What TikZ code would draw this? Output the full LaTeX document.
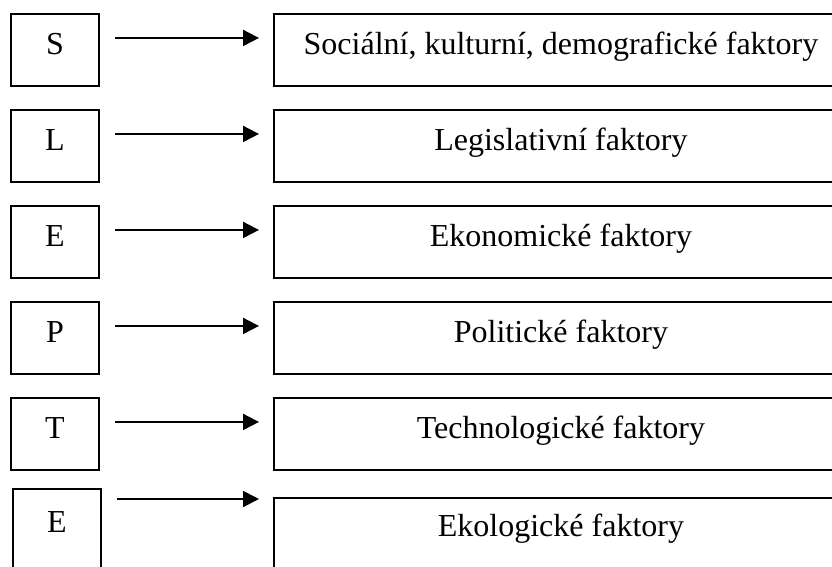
\documentclass[tikz,border=0pt]{standalone}
\usepackage{fontspec}
\setmainfont{Liberation Serif}
\usetikzlibrary{arrows.meta}
\begin{document}
\begin{tikzpicture}[x=1pt,y=-1pt,
  every node/.style={font=\fontsize{32}{36}\selectfont},
  letterbox/.style={draw,line width=1.9pt,minimum width=88pt,minimum height=72pt,inner sep=0pt,text height=18pt,text depth=9pt,anchor=north west},
  factorbox/.style={draw,line width=1.9pt,minimum width=574pt,minimum height=72pt,inner sep=0pt,text height=18pt,text depth=9pt,anchor=north west},
  arr/.style={line width=1.9pt,-{Triangle[length=16pt,width=16pt]},shorten <=15pt,shorten >=14pt}]
\useasboundingbox (0,0) rectangle (832,566);
\node[letterbox] (L1) at (10,13) {S};
\node[factorbox] (R1) at (273,13) {Sociální, kulturní, demografické faktory};
\node[letterbox] (L2) at (10,109) {L};
\node[factorbox] (R2) at (273,109) {Legislativní faktory};
\node[letterbox] (L3) at (10,205) {E};
\node[factorbox] (R3) at (273,205) {Ekonomické faktory};
\node[letterbox] (L4) at (10,301) {P};
\node[factorbox] (R4) at (273,301) {Politické faktory};
\node[letterbox] (L5) at (10,397) {T};
\node[factorbox] (R5) at (273,397) {Technologické faktory};
\node[letterbox,text height=44pt,text depth=50pt] (L6) at (12,488) {E};
\node[factorbox,text height=39pt,text depth=50pt] (R6) at (273,497) {Ekologické faktory};
\foreach \i in {1,...,5}{
  \draw[arr] ([yshift=12pt]L\i.east) -- ([yshift=12pt]L\i.east -| R\i.west);
}
\draw[arr] ([yshift=-11pt]L6.north east) -- ([yshift=-11pt]L6.north east -| R6.west);
\end{tikzpicture}
\end{document}
